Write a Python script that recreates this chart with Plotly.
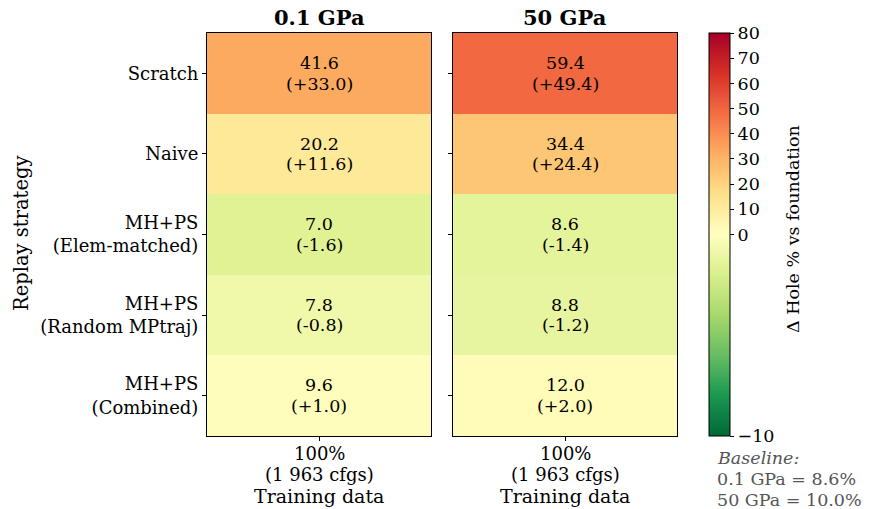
import plotly.graph_objects as go

# Hole percentage per replay strategy at two pressures
strategies = ["Scratch", "Naive", "MH+PS<br>(Elem-matched)", "MH+PS<br>(Random MPtraj)", "MH+PS<br>(Combined)"]
pressures = ["0.1 GPa", "50 GPa"]
hole_01 = [41.6, 20.2, 7.0, 7.8, 9.6]
hole_50 = [59.4, 34.4, 8.6, 8.8, 12.0]
baseline = {"0.1 GPa": 8.6, "50 GPa": 10.0}
train_label = ["100%", "(1 963 cfgs)"]
cbar_ticks = [-10, 0, 10, 20, 30, 40, 50, 60, 70, 80]

VMIN, VCENTER, VMAX = -10.0, 0.0, 80.0


def two_slope(v):
    # piecewise-linear norm around the centre value
    if v >= VCENTER:
        return 0.5 + 0.5 * (v - VCENTER) / (VMAX - VCENTER)
    return 0.5 - 0.5 * (VCENTER - v) / (VCENTER - VMIN)


rdylgn_r = ["#006837", "#1a9850", "#66bd63", "#a6d96a", "#d9ef8b", "#ffffbf",
            "#fee08b", "#fdae61", "#f46d43", "#d73027", "#a50026"]
colorscale = [[i / 10, c] for i, c in enumerate(rdylgn_r)]

FONT = "DejaVu Serif"
W, H = 871, 509
px_x = lambda p: p / W
px_y = lambda p: 1 - p / H
LINE = 20.5  # line spacing in px for stacked labels

fig = go.Figure()

domains = [(207, 431), (453, 677)]
series = {"0.1 GPa": hole_01, "50 GPa": hole_50}
for i, p in enumerate(pressures):
    vals = series[p]
    deltas = [round(v - baseline[p], 1) for v in vals]
    z = [[two_slope(d)] for d in deltas]
    xa = "x" if i == 0 else "x2"
    ya = "y" if i == 0 else "y2"
    fig.add_trace(go.Heatmap(
        z=z, x=[0], y=list(range(len(strategies))),
        coloraxis="coloraxis", xaxis=xa, yaxis=ya, hoverinfo="skip",
    ))
    # two-line value labels in each cell
    for r, (v, d) in enumerate(zip(vals, deltas)):
        for k, s in enumerate([f"{v:.1f}", f"({d:+.1f})"]):
            fig.add_annotation(x=0, y=r, xref=xa, yref=ya, text=s, showarrow=False,
                               xanchor="center", yanchor="middle",
                               yshift=LINE / 2 - k * LINE,
                               font=dict(family=FONT, size=17.5, color="black"))
    d0, d1 = domains[i]
    axkw = dict(showline=True, linecolor="black", linewidth=1, mirror=True,
                ticks="outside", ticklen=4, tickcolor="black",
                tickfont=dict(family=FONT, size=18, color="black"),
                showgrid=False, zeroline=False)
    fig.update_layout(**{
        ("xaxis" if i == 0 else "xaxis2"): dict(
            domain=[px_x(d0), px_x(d1)], range=[-0.5, 0.5],
            tickvals=[0], ticktext=[""],
            anchor=ya, **axkw),
        ("yaxis" if i == 0 else "yaxis2"): dict(
            domain=[px_y(436), px_y(33)], range=[4.5, -0.5],
            tickvals=list(range(len(strategies))),
            ticktext=strategies if i == 0 else [""] * len(strategies),
            anchor=xa, **axkw),
    })
    # x tick label and axis title, stacked under the panel
    for k, s in enumerate(train_label + ["Training data"]):
        fig.add_annotation(x=0, y=px_y(453 + k * 21.5), xref=xa, yref="paper",
                           text=s, showarrow=False, xanchor="center", yanchor="middle",
                           borderpad=0,
                           font=dict(family=FONT, size=18 if k < 2 else 19, color="black"))
    fig.add_annotation(x=px_x((d0 + d1) / 2), y=px_y(17), xref="paper", yref="paper",
                       xanchor="center", yanchor="middle",
                       text=f"<b>{p}</b>", showarrow=False,
                       font=dict(family=FONT, size=21, color="black"))

fig.update_layout(
    width=W, height=H, margin=dict(l=0, r=0, t=0, b=0),
    paper_bgcolor="white", plot_bgcolor="white", showlegend=False,
    coloraxis=dict(
        colorscale=colorscale, cmin=0, cmax=1,
        colorbar=dict(
            x=px_x(709), xanchor="left", y=px_y(436), yanchor="bottom",
            xpad=0, ypad=0,
            len=(436 - 33) / H, lenmode="fraction", thickness=21,
            outlinewidth=1, outlinecolor="black",
            ticks="outside", ticklen=4, tickcolor="black",
            tickvals=[two_slope(t) for t in cbar_ticks],
            ticktext=[("\u2212" + str(-t)) if t < 0 else str(t) for t in cbar_ticks],
            tickfont=dict(family=FONT, size=17.5, color="black"),
        ),
    ),
)

fig.add_annotation(x=px_x(793), y=px_y(229), xref="paper", yref="paper",
                   xanchor="center", yanchor="middle",
                   text="\u0394 Hole % vs foundation", textangle=-90, showarrow=False,
                   font=dict(family=FONT, size=17.5, color="black"))
fig.add_annotation(x=px_x(22), y=px_y(234), xref="paper", yref="paper",
                   xanchor="center", yanchor="middle",
                   text="Replay strategy", textangle=-90, showarrow=False,
                   font=dict(family=FONT, size=19.5, color="black"))

# baseline note, one line at a time
note_lines = ["<i>Baseline:</i>"] + [f"{p} = {baseline[p]:.1f}%" for p in pressures]
for k, s in enumerate(note_lines):
    fig.add_annotation(x=px_x(716), y=px_y(458 + k * 21), xref="paper", yref="paper",
                       xanchor="left", yanchor="middle", showarrow=False, text=s,
                       borderpad=0,
                       font=dict(family=FONT, size=17.5, color="#555555"))

fig.write_html("out.html")
